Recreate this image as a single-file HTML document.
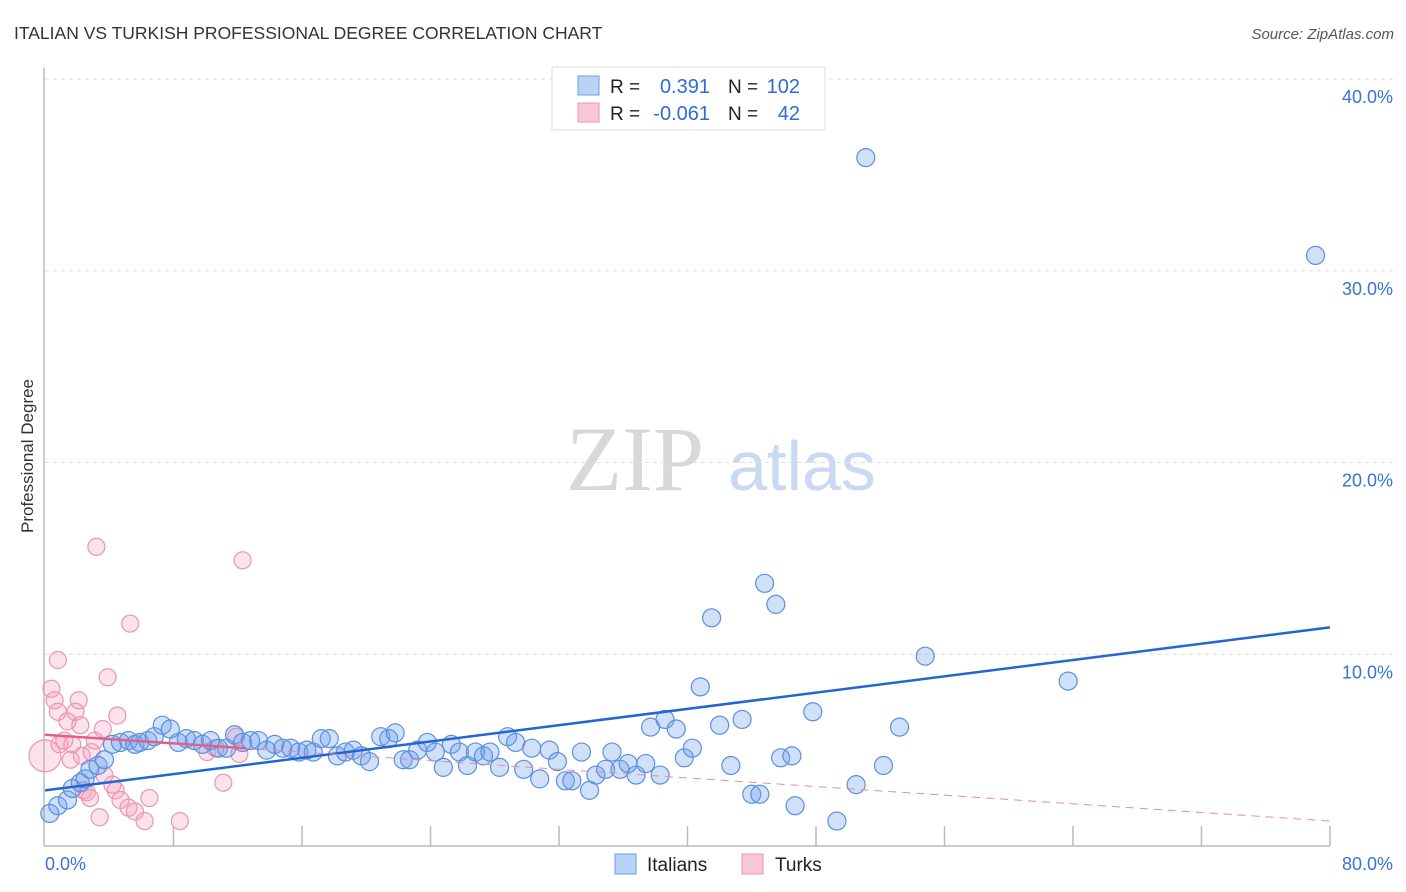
<!DOCTYPE html>
<html><head><meta charset="utf-8"><style>
body{margin:0;background:#fff;font-family:"Liberation Sans",sans-serif;}
svg{display:block}
</style></head><body>
<svg id="chart" width="1406" height="892" xmlns="http://www.w3.org/2000/svg">
<text x="14" y="39" font-size="17.5" fill="#333">ITALIAN VS TURKISH PROFESSIONAL DEGREE CORRELATION CHART</text>
<text x="1394" y="39" font-size="15" fill="#555" font-style="italic" text-anchor="end">Source: ZipAtlas.com</text>
<text x="33" y="456" font-size="17" fill="#333" text-anchor="middle" transform="rotate(-90 33 456)">Professional Degree</text>
<g>
<text x="635" y="490" font-size="92" fill="#d8d8d8" font-family="Liberation Serif,serif" text-anchor="middle">ZIP</text>
<text x="802" y="490" font-size="70" fill="#c9d9f2" text-anchor="middle">atlas</text>
</g>
<g id="grid"></g>
<g id="axes"></g>
<g id="pts"></g>
<g id="lines"></g>
<g>
<rect x="552" y="67" width="273" height="63" fill="#fff" stroke="#ddd"/>
<rect x="578" y="76" width="21" height="19" fill="#b9d3f5" stroke="#6d9ee6"/>
<rect x="578" y="103" width="21" height="19" fill="#f9c6d5" stroke="#ec94b0"/>
<text x="610" y="93" font-size="19" fill="#222">R =</text>
<text x="710" y="93" font-size="20" fill="#2f6bd3" text-anchor="end">0.391</text>
<text x="728" y="93" font-size="19" fill="#222">N =</text>
<text x="800" y="93" font-size="20" fill="#2f6bd3" text-anchor="end">102</text>
<text x="610" y="120" font-size="19" fill="#222">R =</text>
<text x="710" y="120" font-size="20" fill="#2f6bd3" text-anchor="end">-0.061</text>
<text x="728" y="120" font-size="19" fill="#222">N =</text>
<text x="800" y="120" font-size="20" fill="#2f6bd3" text-anchor="end">42</text>
</g>
<g>
<rect x="615" y="854" width="21" height="20" fill="#b9d3f5" stroke="#6d9ee6"/>
<text x="647" y="871" font-size="19" fill="#222">Italians</text>
<rect x="742" y="854" width="21" height="20" fill="#f9c6d5" stroke="#ec94b0"/>
<text x="775" y="871" font-size="19" fill="#222">Turks</text>
</g>
</svg>
<script>
const yTicks=[10,20,30,40];
const yTickLabels=["10.0%","20.0%","30.0%","40.0%"];
const xTickVals=[0,8,16,24,32,40,48,56,64,72,80];
const italiansX=[0.3,0.8,1.4,1.7,2.2,2.5,2.8,3.3,3.7,4.2,4.7,5.2,5.6,5.9,6.4,6.8,7.3,7.8,8.3,8.8,9.3,9.8,10.3,10.8,11.3,11.8,12.3,12.8,13.3,13.8,14.3,14.8,15.3,15.8,16.3,16.7,17.2,17.7,18.2,18.7,19.2,19.7,20.2,20.9,21.4,21.8,22.3,22.7,23.2,23.8,24.3,24.8,25.3,25.8,26.3,26.8,27.3,27.7,28.3,28.8,29.3,29.8,30.3,30.8,31.4,31.9,32.4,32.8,33.4,33.9,34.3,34.9,35.3,35.8,36.3,36.8,37.4,38.3,37.7,38.6,39.3,39.8,40.3,40.8,41.5,42.0,42.7,43.4,44.0,44.5,44.8,45.5,45.8,46.5,46.7,47.8,49.3,50.5,51.1,52.2,53.2,54.8,63.7,79.1];
const italiansY=[1.7,2.1,2.4,3.0,3.3,3.5,4.0,4.2,4.5,5.3,5.4,5.5,5.3,5.4,5.5,5.7,6.3,6.1,5.4,5.6,5.5,5.3,5.5,5.1,5.1,5.8,5.4,5.5,5.5,5.0,5.3,5.1,5.1,4.9,5.0,4.9,5.6,5.6,4.7,4.9,5.0,4.7,4.4,5.7,5.6,5.9,4.5,4.5,5.0,5.4,4.9,4.1,5.3,4.9,4.2,4.9,4.7,4.9,4.1,5.7,5.4,4.0,5.1,3.5,5.0,4.4,3.4,3.4,4.9,2.9,3.7,4.0,4.9,4.0,4.3,3.7,4.3,3.7,6.2,6.6,6.1,4.6,5.1,8.3,11.9,6.3,4.2,6.6,2.7,2.7,13.7,12.6,4.6,4.7,2.1,7.0,1.3,3.2,35.9,4.2,6.2,9.9,8.6,30.8];
const turksX=[0.0,0.4,0.6,0.8,0.9,1.2,1.4,1.6,1.7,1.9,2.1,2.2,2.3,2.4,2.6,2.8,2.9,3.1,3.2,3.4,3.6,3.7,3.9,4.2,4.4,4.5,4.7,5.2,5.3,5.6,6.2,6.5,8.4,10.1,10.6,11.1,11.9,12.1,12.3,0.8];
const turksY=[4.7,8.2,7.6,7.0,5.3,5.5,6.5,4.5,5.3,7.0,7.6,6.3,4.7,2.9,2.8,2.5,4.9,5.5,15.6,1.5,6.1,3.7,8.8,3.2,2.9,6.8,2.4,2.0,11.6,1.8,1.3,2.5,1.3,4.9,5.1,3.3,5.7,4.8,14.9,9.7];
const italiansTrend=[2.9,11.4];
const turksTrend=[5.8,1.3];
const turksSolidEnd=12.5;

const X0=45,X1=1330,Y0=846,Y40=79;
const sx=v=>X0+(X1-X0)*v/80;
const sy=v=>Y0-(Y0-Y40)*v/40;
const NS="http://www.w3.org/2000/svg";
function mk(tag,attrs,parent){const e=document.createElementNS(NS,tag);for(const k in attrs)e.setAttribute(k,attrs[k]);parent.appendChild(e);return e;}
const grid=document.getElementById('grid'),axes=document.getElementById('axes'),pts=document.getElementById('pts'),lines=document.getElementById('lines');
yTicks.forEach((t,i)=>{
 const l=mk('line',{x1:X0,x2:1393,y1:sy(t),y2:sy(t),stroke:'#ddd','stroke-dasharray':'4,4'},grid);
 
 
 const tx=mk('text',{x:1393,y:sy(t)+24,'font-size':18,fill:'#3a72d6','text-anchor':'end'},axes);
 tx.textContent=yTickLabels[i];
 
 
});
const ya=mk('line',{x1:44,x2:44,y1:68,y2:Y0,stroke:'#bbb','stroke-width':1.5},axes);


const xa=mk('line',{x1:44,x2:X1,y1:Y0,y2:Y0,stroke:'#bbb','stroke-width':1.5},axes);


xTickVals.forEach(v=>{if(v===0)return;
 const t=mk('line',{x1:sx(v),x2:sx(v),y1:826,y2:Y0,stroke:'#bbb','stroke-width':1.5},axes);
 
 
});
const xl0=mk('text',{x:45,y:870,'font-size':18,fill:'#3a72d6'},axes);xl0.textContent='0.0%';


const xl1=mk('text',{x:1393,y:870,'font-size':18,fill:'#3a72d6','text-anchor':'end'},axes);xl1.textContent='80.0%';


turksX.forEach((x,i)=>{
 const c=mk('circle',{cx:sx(x),cy:sy(turksY[i]),r:i===0?16:8.5,fill:'rgba(244,160,188,0.3)',stroke:'#ec94b0','stroke-width':1.2},pts);
 
 
});
italiansX.forEach((x,i)=>{
 const c=mk('circle',{cx:sx(x),cy:sy(italiansY[i]),r:9,fill:'rgba(110,160,235,0.32)',stroke:'#5b8fdf','stroke-width':1.2},pts);
 
 
});
const ty=v=>turksTrend[0]+(turksTrend[1]-turksTrend[0])*v/80;
const l1=mk('line',{x1:sx(0),y1:sy(italiansTrend[0]),x2:sx(80),y2:sy(italiansTrend[1]),stroke:'#2266d4','stroke-width':2.5},lines);


const l2=mk('line',{x1:sx(0),y1:sy(ty(0)),x2:sx(turksSolidEnd),y2:sy(ty(turksSolidEnd)),stroke:'#e0608a','stroke-width':2.5},lines);


const l3=mk('line',{x1:sx(turksSolidEnd),y1:sy(ty(turksSolidEnd)),x2:sx(80),y2:sy(ty(80)),stroke:'#e88aa8','stroke-width':1,'stroke-dasharray':'8,6'},lines);


</script>
</body></html>
